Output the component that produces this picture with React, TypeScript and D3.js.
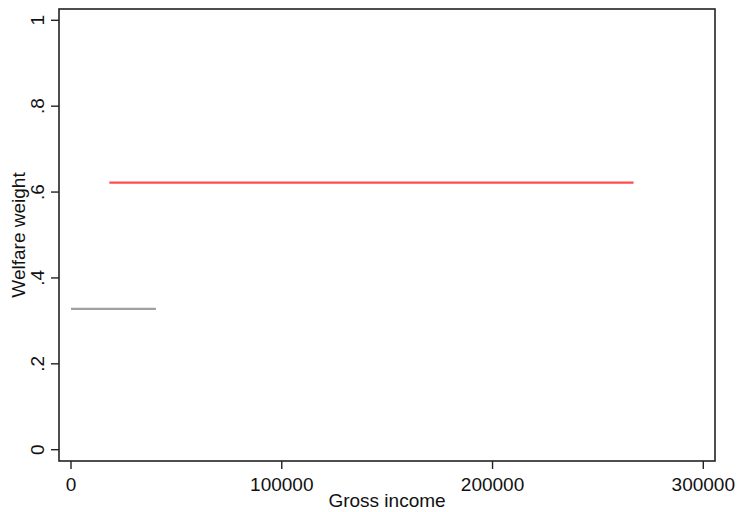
import React from "react";
import * as d3 from "d3";

// Welfare weights by gross income bracket
const segStart = [0, 18200];
const segEnd = [40300, 266900];
const segWeight = [0.328, 0.622];
const segColor = ["#a0a0a0", "#ff4c4c"];

const xTicks = [0, 100000, 200000, 300000];
const yTicks = [0, 0.2, 0.4, 0.6, 0.8, 1];
const yTickLabels = ["0", ".2", ".4", ".6", ".8", "1"];

const W = 737;
const H = 512;
const box = { left: 59, right: 715, top: 9, bottom: 461 };

export default function App() {
  const x = d3.scaleLinear().domain([0, 300000]).range([71, 703.3]);
  const y = d3.scaleLinear().domain([0, 1]).range([449.7, 20.3]);
  const font = "'Liberation Sans', Arial, sans-serif";
  const fs = 19;

  return (
    <svg
      width={W}
      height={H}
      style={{ position: "absolute", left: 0, top: 0, background: "#fff" }}
      fontFamily={font}
    >
      <rect x={0} y={0} width={W} height={H} fill="#fff" />
      {/* plot region outline */}
      <rect
        x={box.left}
        y={box.top}
        width={box.right - box.left}
        height={box.bottom - box.top}
        fill="none"
        stroke="#222"
        strokeWidth={1.6}
      />
      {/* y axis ticks and labels */}
      {yTicks.map((t, i) => (
        <g key={"y" + i}>
          <line x1={box.left - 8} x2={box.left} y1={y(t)} y2={y(t)} stroke="#222" strokeWidth={1.4} />
          <text
            transform={`translate(43.5,${y(t)}) rotate(-90)`}
            textAnchor="middle"
            fontSize={fs}
            fill="#111"
          >
            {yTickLabels[i]}
          </text>
        </g>
      ))}
      {/* x axis ticks and labels */}
      {xTicks.map((t, i) => (
        <g key={"x" + i}>
          <line x1={x(t)} x2={x(t)} y1={box.bottom} y2={box.bottom + 8} stroke="#222" strokeWidth={1.4} />
          <text x={x(t)} y={491} textAnchor="middle" fontSize={fs} fill="#111">
            {d3.format("d")(t)}
          </text>
        </g>
      ))}
      <text x={(box.left + box.right) / 2} y={506.5} textAnchor="middle" fontSize={fs} fill="#111">
        Gross income
      </text>
      <text
        transform={`translate(24.5,${(box.top + box.bottom) / 2}) rotate(-90)`}
        textAnchor="middle"
        fontSize={fs}
        fill="#111"
      >
        Welfare weight
      </text>
      {/* weight segments */}
      {segWeight.map((w, i) => (
        <line
          key={"s" + i}
          x1={x(segStart[i])}
          x2={x(segEnd[i])}
          y1={y(w)}
          y2={y(w)}
          stroke={segColor[i]}
          strokeWidth={2.2}
        />
      ))}
    </svg>
  );
}
